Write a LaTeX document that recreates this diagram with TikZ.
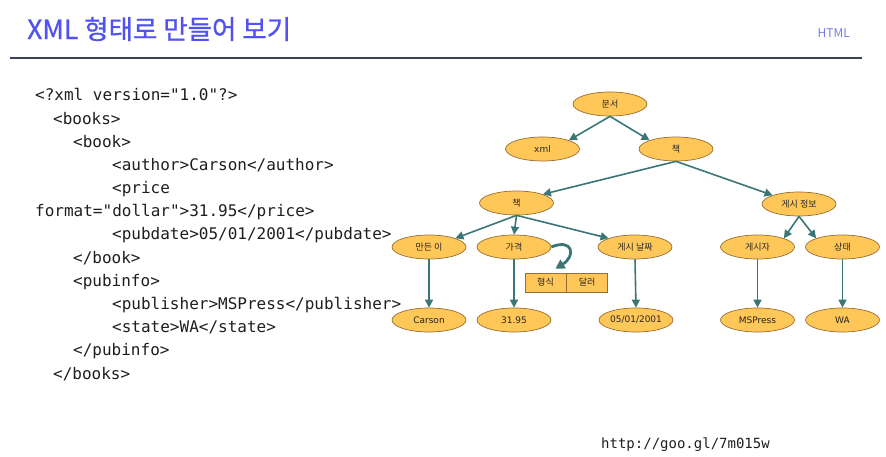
\documentclass[tikz,border=0pt]{standalone}
\usepackage{fontspec}
\newfontfamily\kr{Noto Sans CJK KR}
\newfontfamily\krtitle[FakeBold=0.9]{Noto Sans CJK KR}
\newfontfamily\lat{DejaVu Sans}
\newfontfamily\codefont{DejaVu Sans Mono}
\usetikzlibrary{shapes.geometric,arrows.meta}
\definecolor{titleblue}{RGB}{82,82,240}
\definecolor{tagblue}{RGB}{120,120,235}
\definecolor{rulecol}{RGB}{60,66,86}
\definecolor{nodefill}{RGB}{255,198,88}
\definecolor{nodeborder}{RGB}{150,110,50}
\definecolor{edgecol}{RGB}{58,118,118}
\definecolor{codecol}{RGB}{30,30,30}
\tikzset{
  tnode/.style={ellipse,draw=nodeborder,line width=0.7pt,fill=nodefill,minimum width=74pt,minimum height=24pt,inner sep=0pt,font=\kr\fontsize{9}{10}\selectfont,text=black!85},
  lnode/.style={tnode,font=\lat\fontsize{9}{10}\selectfont},
  cell/.style={rectangle,draw=nodeborder,line width=0.7pt,fill=nodefill,minimum width=41pt,minimum height=19pt,inner sep=0pt,font=\kr\fontsize{9}{10}\selectfont,text=black!85},
  edge/.style={draw=edgecol,line width=1.6pt,-{Triangle[length=8pt,width=8pt]}},
  codeline/.style={anchor=base west,inner sep=0pt,font=\codefont\fontsize{16}{18}\selectfont,text=codecol},
}
\begin{document}
\begin{tikzpicture}[x=1pt,y=-1pt]
\useasboundingbox (0,0) rectangle (886,457);
% header
\node[anchor=west,inner sep=0pt,font=\krtitle\fontsize{26.5}{30}\selectfont,text=titleblue] (title) at (27,29) {XML 형태로 만들어 보기};
\node[anchor=east,inner sep=0pt,font=\kr\fontsize{12}{14}\selectfont,text=tagblue] (tag) at (850,33) {HTML};
\draw[rulecol,line width=1.3pt] (10,58) coordinate (r1) -- (862,58) coordinate (r2);
% code
\node[codeline] (c1) at (35,101) {<?xml version="1.0"?>};
\node[codeline] (c2) at (53,124.2) {<books>};
\node[codeline] (c3) at (73,147.3) {<book>};
\node[codeline] (c4) at (112,170.5) {<author>Carson</author>};
\node[codeline] (c5) at (112,193.7) {<price};
\node[codeline] (c6) at (35,216.8) {format="dollar">31.95</price>};
\node[codeline] (c7) at (112,240) {<pubdate>05/01/2001</pubdate>};
\node[codeline] (c8) at (73,263.2) {</book>};
\node[codeline] (c9) at (73,286.4) {<pubinfo>};
\node[codeline] (c10) at (112,309.5) {<publisher>MSPress</publisher>};
\node[codeline] (c11) at (112,332.7) {<state>WA</state>};
\node[codeline] (c12) at (73,355.9) {</pubinfo>};
\node[codeline] (c13) at (53,379) {</books>};
% tree
\node[tnode] (doc) at (610,104) {문서};
\node[lnode] (xml) at (542.5,149) {xml};
\node[tnode] (books) at (676,149) {책};
\node[tnode] (book) at (516.5,203) {책};
\node[tnode] (pubinfo) at (799,204) {게시 정보};
\node[tnode] (author) at (429,247) {만든 이};
\node[tnode] (price) at (514,247) {가격};
\node[tnode] (pubdate) at (635,247) {게시 날짜};
\node[tnode] (publisher) at (757.5,247) {게시자};
\node[tnode] (state) at (842.5,247) {상태};
\node[lnode] (carson) at (429,320) {Carson};
\node[lnode] (v3195) at (514,320) {31.95};
\node[lnode] (date) at (636,320) {05/01/2001};
\node[lnode] (mspress) at (757.5,320) {MSPress};
\node[lnode] (wa) at (842.5,320) {WA};
\node[cell] (fmt) at (545.5,282.5) {형식};
\node[cell,anchor=west] (dollar) at (fmt.east) {달러};
% edges
\draw[edge] (doc.south) -- (xml.north east);
\draw[edge] (doc.south) -- (books.north west);
\draw[edge] (books.south) -- (book.north east);
\draw[edge] (books.south) -- (pubinfo.north west);
\draw[edge] (book.south) -- (author.north east);
\draw[edge] (book.south) -- (price.north);
\draw[edge] (book.south) -- (pubdate.north west);
\draw[edge] (pubinfo.south) -- (publisher.north east);
\draw[edge] (pubinfo.south) -- (state.north west);
\draw[edge] (author.south) -- (carson.north);
\draw[edge] (price.south) -- (v3195.north);
\draw[edge] (pubdate.south) -- (date.north);
\draw[edge] (publisher.south) -- (mspress.north);
\draw[edge] (state.south) -- (wa.north);
\draw[edgecol,line width=2.8pt,-{Triangle[length=9pt,width=10pt]}] (price.east) .. controls (573,238) and (576,256) .. ([xshift=10pt,yshift=4pt]fmt.north);
% url
\node[anchor=west,inner sep=0pt,font=\codefont\fontsize{14}{16}\selectfont,text=codecol] (url) at (601,445) {http://goo.gl/7m015w};
\end{tikzpicture}
\end{document}
